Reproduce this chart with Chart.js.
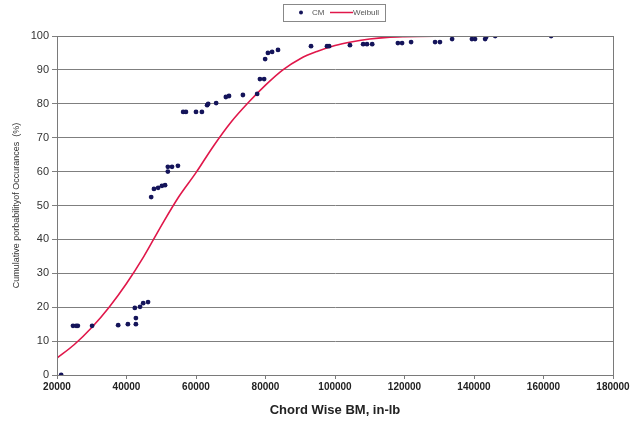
<!DOCTYPE html>
<html>
<head>
<meta charset="utf-8">
<script src="https://cdn.jsdelivr.net/npm/chart.js@4/dist/chart.umd.min.js"></script>
<style>
    html, body { margin: 0; padding: 0; background: #fff; }
    #wrap { width: 636px; height: 421px; position: relative; }
</style>
</head>
<body>
<div id="wrap"><canvas id="bmChart"></canvas></div>
<script>
// Measured points (CM)
const cmX = [21200, 24600, 25500, 26000, 30100, 37600, 40400, 42700, 42700, 42400, 43900, 44800, 46200,
    47100, 47900, 49100, 50200, 51100, 51900, 51900, 53100, 54800,
    56300, 57100, 60000, 61700, 63200, 63500, 65800, 68600, 69500, 73500, 77600,
    78400, 79600, 79900, 80700, 81900, 83600,
    93100, 97700, 98300, 104300, 108100, 109200, 110700,
    118100, 119300, 121900, 128800, 130200, 133700, 139400, 140300, 143200, 143500, 146100, 162200];
const cmY = [0, 14.5, 14.5, 14.5, 14.5, 14.7, 15, 15, 16.8, 19.8, 20.1, 21.2, 21.5,
    52.5, 54.9, 55.2, 55.8, 56, 60, 61.4, 61.4, 61.7,
    77.6, 77.6, 77.6, 77.6, 79.6, 80, 80.2, 82, 82.3, 82.6, 82.9,
    87.3, 87.3, 93.2, 95, 95.3, 95.9,
    97, 97, 97, 97.3, 97.6, 97.6, 97.6,
    97.9, 97.9, 98.2, 98.2, 98.2, 99.1, 99.1, 99.1, 99.1, 99.7, 100, 100];

// Weibull fit
const weibullX = [20000, 25000, 30000, 35000, 40000, 45000, 50000, 55000, 60000, 65000, 70000, 75000,
    80000, 85000, 90000, 95000, 100000, 105000, 110000, 115000, 120000, 130000, 140000, 150000, 162000];
const weibullY = [5, 9, 14, 20, 27, 35, 44, 52.5, 59.7, 67.5, 74.5, 80.3,
    85.5, 90, 93.3, 95.5, 97.2, 98.3, 99.1, 99.6, 99.8, 99.95, 100, 100, 100];

const xTicks = [20000, 40000, 60000, 80000, 100000, 120000, 140000, 160000, 180000];
const yTicks = [0, 10, 20, 30, 40, 50, 60, 70, 80, 90, 100];

const toPoints = (xs, ys) => xs.map((x, i) => ({ x: x, y: ys[i] }));

// frame around plot + small legend box at top
const framePlugin = {
    id: 'frame',
    afterDatasetsDraw(chart) {
        const { ctx, chartArea } = chart;
        ctx.save();
        ctx.strokeStyle = '#7a7a7a';
        ctx.lineWidth = 1;
        ctx.strokeRect(chartArea.left + 0.5, chartArea.top + 0.5, chartArea.right - chartArea.left, chartArea.bottom - chartArea.top);

        // legend
        const cm = chart.data.datasets[0];
        const wb = chart.data.datasets[1];
        ctx.strokeStyle = '#888';
        ctx.strokeRect(283.5, 4.5, 102, 17);
        ctx.fillStyle = cm.backgroundColor;
        ctx.beginPath();
        ctx.arc(301, 12.5, 2, 0, Math.PI * 2);
        ctx.fill();
        ctx.font = '8px Arial, "Liberation Sans", sans-serif';
        ctx.fillStyle = '#555';
        ctx.textBaseline = 'middle';
        ctx.fillText('CM', 312, 13);
        ctx.strokeStyle = wb.borderColor;
        ctx.lineWidth = 1.5;
        ctx.beginPath();
        ctx.moveTo(330, 12.5);
        ctx.lineTo(353, 12.5);
        ctx.stroke();
        ctx.fillText('Weibull', 353, 13);
        ctx.restore();
    }
};

const ctx = document.getElementById('bmChart').getContext('2d');
new Chart(ctx, {
    type: 'scatter',
    data: {
        datasets: [
            {
                label: 'CM',
                data: toPoints(cmX, cmY),
                backgroundColor: '#14145a',
                borderColor: '#14145a',
                pointRadius: 2.4,
                pointBorderWidth: 0,
                showLine: false,
                order: 1
            },
            {
                label: 'Weibull',
                data: toPoints(weibullX, weibullY),
                borderColor: '#e0174a',
                backgroundColor: '#e0174a',
                borderWidth: 1.6,
                pointRadius: 0,
                showLine: true,
                tension: 0.4,
                cubicInterpolationMode: 'monotone',
                order: 2
            }
        ]
    },
    options: {
        responsive: true,
        maintainAspectRatio: false,
        animation: false,
        events: [],
        layout: { padding: { top: 36, right: 23, left: 0, bottom: 0 } },
        plugins: {
            legend: { display: false },
            tooltip: { enabled: false }
        },
        scales: {
            x: {
                type: 'linear',
                min: 20000,
                max: 180000,
                afterBuildTicks: (scale) => { scale.ticks = xTicks.map(v => ({ value: v })); },
                afterFit: (scale) => { scale.height = 46; },
                grid: { drawOnChartArea: false, tickLength: 4, color: '#7a7a7a' },
                border: { color: '#7a7a7a' },
                ticks: {
                    color: '#222',
                    padding: 2,
                    maxRotation: 0,
                    font: { family: 'Arial, "Liberation Sans", sans-serif', size: 10, weight: 'bold' },
                    callback: (v) => String(v)
                },
                title: {
                    display: true,
                    text: 'Chord Wise BM, in-lb',
                    color: '#222',
                    font: { family: 'Arial, "Liberation Sans", sans-serif', size: 13, weight: 'bold' },
                    padding: { top: 0, bottom: 3 }
                }
            },
            y: {
                type: 'linear',
                min: 0,
                max: 100,
                afterBuildTicks: (scale) => { scale.ticks = yTicks.map(v => ({ value: v })); },
                afterFit: (scale) => { scale.width = 57; },
                grid: { color: '#7f7f7f', tickLength: 5 },
                border: { color: '#7a7a7a' },
                ticks: {
                    color: '#333',
                    padding: 3,
                    font: { family: 'Arial, "Liberation Sans", sans-serif', size: 11 }
                },
                title: {
                    display: true,
                    text: 'Cumulative porbabilityof Occurances  (%)',
                    color: '#333',
                    font: { family: 'Arial, "Liberation Sans", sans-serif', size: 9 },
                    padding: { top: 11, bottom: 0 }
                }
            }
        }
    },
    plugins: [framePlugin]
});
</script>
</body>
</html>
